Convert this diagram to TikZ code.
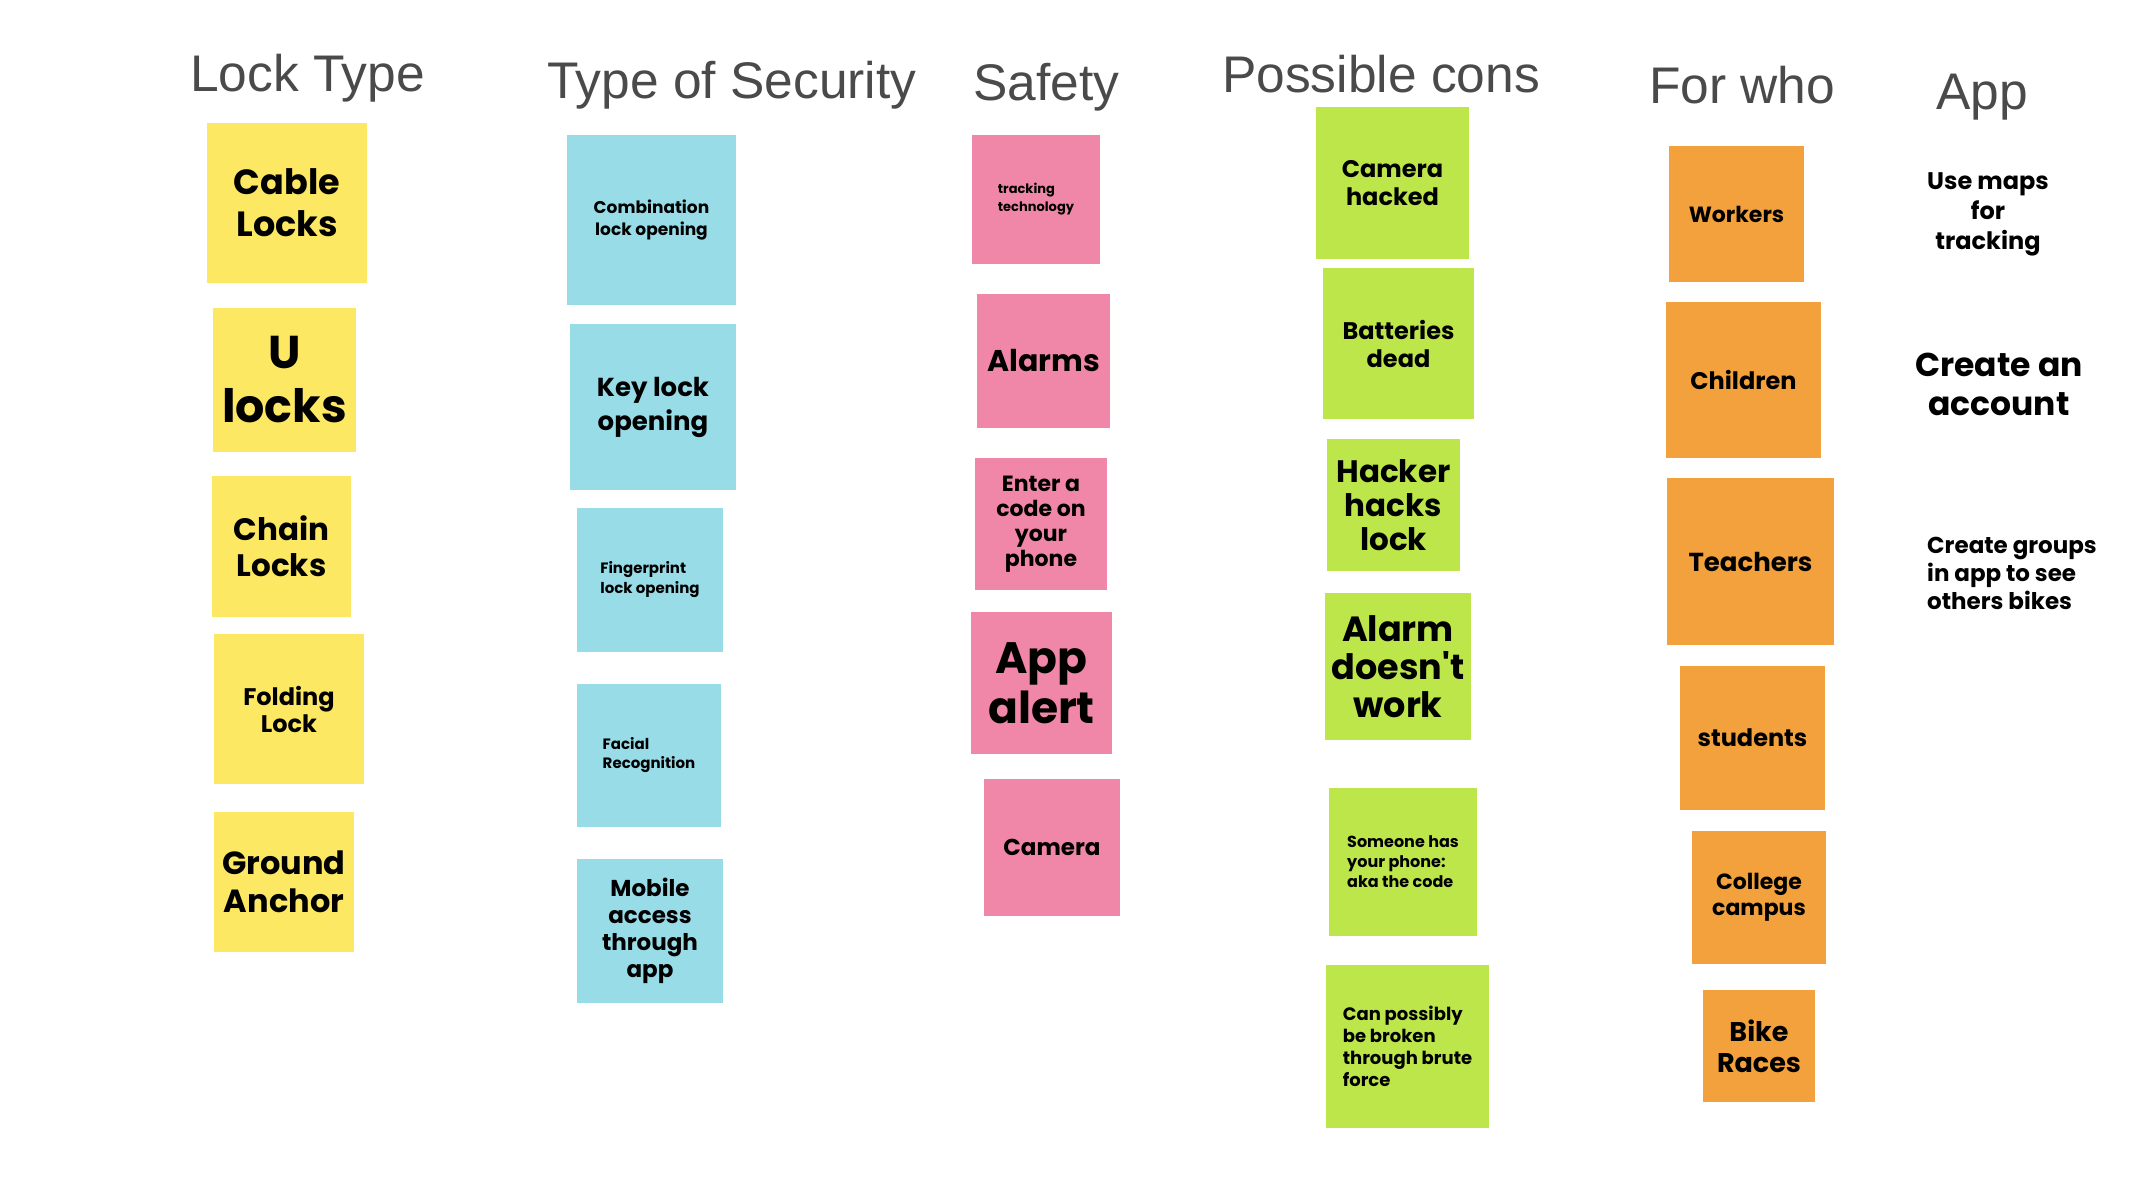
\documentclass[tikz,border=0pt]{standalone}
\usepackage{fontspec}
\setmainfont{Liberation Sans}
\newfontfamily\pop{Poppins}
\definecolor{nyellow}{HTML}{FCE862}
\definecolor{nblue}{HTML}{98DCE8}
\definecolor{npink}{HTML}{F087A8}
\definecolor{ngreen}{HTML}{BDE64A}
\definecolor{norange}{HTML}{F2A13C}
\definecolor{tgray}{HTML}{4A4A4A}
\tikzset{
  note/.style={rectangle, inner sep=0pt, outer sep=0pt, align=center, text=black},
  fs/.style args={#1/#2}{font=\pop\bfseries\fontsize{#1}{#2}\selectfont},
  sz/.style args={#1x#2}{minimum width=#1pt, minimum height=#2pt},
  yel/.style={note, fill=nyellow},
  blu/.style={note, fill=nblue},
  pnk/.style={note, fill=npink},
  grn/.style={note, fill=ngreen},
  org/.style={note, fill=norange},
  title/.style={anchor=base west, inner sep=0pt, text=tgray, font=\fontsize{51.5}{58}\selectfont},
  apptext/.style={inner sep=0pt, text=black},
}
\begin{document}
\begin{tikzpicture}[x=1pt,y=-1pt]
\useasboundingbox[fill=white] (0,0) rectangle (2148,1176);
% titles
\node[title] (t1) at (190,91) {Lock Type};
\node[title] (t2) at (547,98) {Type of Security};
\node[title] (t3) at (973,100) {Safety};
\node[title] (t4) at (1222,92) {Possible cons};
\node[title] (t5) at (1649,103) {For who};
\node[title] (t6) at (1936,109) {App};
% Lock type
\node[yel, sz=160x160, fs=35/42] (cable) at (287,203) {Cable\\Locks};
\node[yel, sz=143x144, fs=46/54] (ulocks) at (284.5,380) {U\\locks};
\node[yel, sz=139x141, fs=31/36] (chain) at (281.5,546.5) {Chain\\Locks};
\node[yel, sz=150x150, fs=24/27] (folding) at (289,709) {Folding\\Lock};
\node[yel, sz=140x140, fs=32/38] (ground) at (284,882) {Ground\\Anchor};
% Type of security
\node[blu, sz=169x170, fs=17/22] (comb) at (651.5,220) {Combination\\lock opening};
\node[blu, sz=166x166, fs=26/34] (key) at (653,407) {Key lock\\opening};
\node[blu, sz=146x144, fs=15/20, align=left] (finger) at (650,580) {Fingerprint\\lock opening};
\node[blu, sz=144x143, fs=15/19, align=left] (facial) at (649,755.5) {Facial\\Recognition};
\node[blu, sz=146x144, fs=23/27] (mobile) at (650,931) {Mobile\\access\\through\\app};
% Safety
\node[pnk, sz=128x129, fs=13/18, align=left] (tracking) at (1036,199.5) {tracking\\technology};
\node[pnk, sz=133x134, fs=30/34] (alarms) at (1043.5,361) {Alarms};
\node[pnk, sz=132x132, fs=22/25] (enter) at (1041,524) {Enter a\\code on\\your\\phone};
\node[pnk, sz=141x142, fs=44/50] (appalert) at (1041.5,683) {App\\alert};
\node[pnk, sz=136x137, fs=23/27] (camera) at (1052,847.5) {Camera};
% Possible cons
\node[grn, sz=153x152, fs=24/28] (camhacked) at (1392.5,183) {Camera\\hacked};
\node[grn, sz=151x151, fs=24/28] (batteries) at (1398.5,343.5) {Batteries\\dead};
\node[grn, sz=133x132, fs=31/34] (hacker) at (1393.5,505) {Hacker\\hacks\\lock};
\node[grn, sz=146x147, fs=35/38] (alarmdw) at (1398,666.5) {Alarm\\doesn't\\work};
\node[grn, sz=148x148, fs=16/20, align=left] (someone) at (1403,862) {Someone has\\your phone:\\aka the code};
\node[grn, sz=163x163, fs=18/22, align=left] (canposs) at (1407.5,1046.5) {Can possibly\\be broken\\through brute\\force};
% For who
\node[org, sz=135x136, fs=22/26] (workers) at (1736.5,214) {Workers};
\node[org, sz=155x156, fs=24/28] (children) at (1743.5,380) {Children};
\node[org, sz=167x167, fs=26/30] (teachers) at (1750.5,561.5) {Teachers};
\node[org, sz=145x144, fs=24/28] (students) at (1752.5,738) {students};
\node[org, sz=134x133, fs=22/26] (college) at (1759,897.5) {College\\campus};
\node[org, sz=112x112, fs=27/31] (bike) at (1759,1046) {Bike\\Races};
% App
\node[apptext, align=center, fs=24/30] (usemaps) at (1988,214.5) {Use maps\\for\\tracking};
\node[apptext, align=center, fs=33/39] (account) at (1999,384.5) {Create an\\account};
\node[apptext, align=left, anchor=west, fs=23/28] (groups) at (1927,573) {Create groups\\in app to see\\others bikes};
\end{tikzpicture}
\end{document}
